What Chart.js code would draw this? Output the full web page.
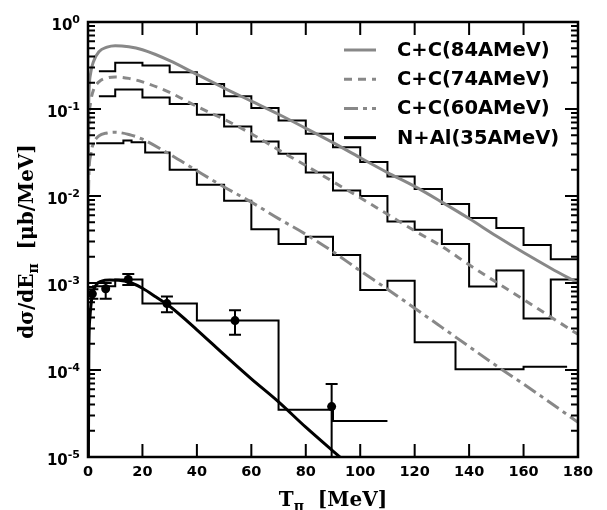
<!DOCTYPE html>
<html>
<head>
<meta charset="utf-8">
<script src="https://cdn.jsdelivr.net/npm/chart.js@4.4.0/dist/chart.umd.min.js"></script>
<style>
  html, body { margin: 0; padding: 0; background: #fff; }
  #wrap { width: 607px; height: 510px; }
</style>
</head>
<body>
<div id="wrap"><canvas id="pionChart" width="607" height="510"></canvas></div>
<script>
// ---- model curves (T in MeV, dsigma/dE in ub/MeV) ----
var curveT = [0.05, 0.3, 1, 2, 4, 7, 10, 15, 20, 30, 40, 50, 60, 70, 80, 90, 100, 110, 120, 130, 140, 150, 160, 170, 180];
var cc84 = [0.03, 0.13, 0.26, 0.35, 0.455, 0.515, 0.535, 0.52, 0.48, 0.36, 0.25, 0.174, 0.123, 0.087, 0.06, 0.041, 0.0275, 0.0186, 0.0129, 0.0085, 0.0055, 0.00347, 0.00224, 0.00148, 0.001];
var cc74 = [0.015, 0.06, 0.12, 0.165, 0.205, 0.228, 0.234, 0.225, 0.205, 0.155, 0.107, 0.076, 0.052, 0.0339, 0.0224, 0.0146, 0.00955, 0.00617, 0.00398, 0.00263, 0.00162, 0.00102, 0.000646, 0.000407, 0.000257];
var cc60 = [0.005, 0.016, 0.03, 0.04, 0.049, 0.053, 0.054, 0.051, 0.045, 0.0302, 0.0195, 0.0127, 0.0085, 0.0055, 0.00363, 0.00229, 0.00138, 0.00085, 0.000513, 0.000309, 0.000186, 0.000112, 0.000069, 0.0000417, 0.0000251];
var nalT = [0.1, 0.3, 0.7, 1.5, 3, 5, 8, 12, 16, 20, 25, 30, 40, 50, 60, 70, 80, 90, 100];
var nal35 = [3e-6, 1.5e-4, 4e-4, 7e-4, 9.5e-4, 1.05e-3, 1.08e-3, 1.07e-3, 1.0e-3, 8.7e-4, 6.9e-4, 5.4e-4, 2.9e-4, 1.5e-4, 7.9e-5, 4.3e-5, 2.2e-5, 1.17e-5, 6.3e-6];

// ---- histograms (bin edges + contents) ----
var edgesCC = [4, 10, 20, 30, 40, 50, 60, 70, 80, 90, 100, 110, 120, 130, 140, 150, 160, 170, 180];
var hist84 = [0.271, 0.339, 0.316, 0.264, 0.194, 0.140, 0.103, 0.074, 0.052, 0.0364, 0.0246, 0.0168, 0.012, 0.0081, 0.0056, 0.0043, 0.00274, 0.00188];
var hist74 = [0.14, 0.167, 0.136, 0.114, 0.086, 0.063, 0.0424, 0.0306, 0.0186, 0.0116, 0.0100, 0.0051, 0.0041, 0.0028, 0.00091, 0.00139, 0.00039, 0.0011];
var edges60 = [3, 13, 16, 21, 30, 40, 50, 60, 70, 80, 90, 100, 110, 120, 135, 160, 176];
var hist60 = [0.0405, 0.0435, 0.0415, 0.0317, 0.020, 0.01345, 0.0088, 0.00416, 0.00281, 0.00341, 0.0021, 0.00083, 0.00106, 0.000208, 0.000102, 0.000109];
var edgesNAl = [1.5, 10, 20, 40, 70, 90, 110];
var histNAl = [9.2e-4, 1.1e-3, 5.8e-4, 3.7e-4, 3.5e-5, 2.6e-5];

// ---- N+Al measured points ----
var expT = [1.6, 6.5, 14.8, 29, 54, 89.5];
var expY = [7.5e-4, 8.6e-4, 1.1e-3, 5.8e-4, 3.7e-4, 3.8e-5];
var expLo = [6.6e-4, 6.6e-4, 9.5e-4, 4.6e-4, 2.55e-4, 1e-6];
var expHi = [8.5e-4, 1.0e-3, 1.27e-3, 7.0e-4, 4.85e-4, 6.9e-5];

// ---- axes ----
var xTicks = [0, 20, 40, 60, 80, 100, 120, 140, 160, 180];
var yDecades = [1e-5, 1e-4, 1e-3, 1e-2, 1e-1, 1];

var GRAY = '#888888';

function toPoints(xs, ys) {
	return xs.map(function(x, i) { return { x: x, y: ys[i] }; });
}

function toSteps(edges, vals) {
	var pts = vals.map(function(v, i) { return { x: edges[i], y: v }; });
	pts.push({ x: edges[edges.length - 1], y: vals[vals.length - 1] });
	return pts;
}

function histSet(edges, vals) {
	return { data: toSteps(edges, vals), stepped: true, borderColor: '#000', borderWidth: 2, pointRadius: 0, fill: false };
}

function curveSet(label, xs, ys, color, width, dash, row) {
	return { label: label, data: toPoints(xs, ys), borderColor: color, borderWidth: width, borderDash: dash,
		pointRadius: 0, fill: false, cubicInterpolationMode: 'monotone', legendRow: row };
}

// dataset 0 is drawn on top
var datasets = [
	{ label: 'N+Al data', data: toPoints(expT, expY), showLine: false, pointRadius: 4.5,
		pointBackgroundColor: '#000', pointBorderColor: '#000', pointBorderWidth: 0 },
	curveSet('N+Al(35AMeV)', nalT, nal35, '#000', 3, [], 3),
	curveSet('C+C(84AMeV)', curveT, cc84, GRAY, 3, [], 0),
	curveSet('C+C(74AMeV)', curveT, cc74, GRAY, 3, [8, 6], 1),
	curveSet('C+C(60AMeV)', curveT, cc60, GRAY, 3, [14, 5, 4, 5], 2),
	histSet(edgesCC, hist84),
	histSet(edgesCC, hist74),
	histSet(edges60, hist60),
	histSet(edgesNAl, histNAl)
];

function drawRich(ctx, parts, cx, baseY) {
	var big = 'bold 20px "DejaVu Serif"', small = 'bold 14px "DejaVu Serif"';
	var total = 0;
	parts.forEach(function(p) {
		ctx.font = p.sub ? small : big;
		p.w = ctx.measureText(p.t).width;
		total += p.w;
	});
	var x = cx - total / 2;
	ctx.textAlign = 'left';
	ctx.textBaseline = 'alphabetic';
	parts.forEach(function(p) {
		ctx.font = p.sub ? small : big;
		ctx.fillText(p.t, x, baseY + (p.sub ? 5 : 0));
		x += p.w;
	});
}

var errorBars = {
	id: 'errorBars',
	afterDatasetsDraw: function(chart) {
		var ctx = chart.ctx, a = chart.chartArea, xs = chart.scales.x, ys = chart.scales.y;
		ctx.save();
		ctx.beginPath();
		ctx.rect(a.left, a.top, a.right - a.left, a.bottom - a.top);
		ctx.clip();
		ctx.strokeStyle = '#000';
		ctx.lineWidth = 2;
		expT.forEach(function(t, i) {
			var px = xs.getPixelForValue(t);
			var y1 = ys.getPixelForValue(expLo[i]);
			var y2 = ys.getPixelForValue(expHi[i]);
			ctx.beginPath();
			ctx.moveTo(px, y1); ctx.lineTo(px, y2);
			ctx.moveTo(px - 6, y1); ctx.lineTo(px + 6, y1);
			ctx.moveTo(px - 6, y2); ctx.lineTo(px + 6, y2);
			ctx.stroke();
		});
		ctx.restore();
	}
};

var frameAndLabels = {
	id: 'frameAndLabels',
	afterDraw: function(chart) {
		var ctx = chart.ctx, a = chart.chartArea, xs = chart.scales.x, ys = chart.scales.y;
		ctx.save();
		ctx.strokeStyle = '#000';
		ctx.lineWidth = 2;
		ctx.setLineDash([]);
		ctx.beginPath();
		xTicks.forEach(function(t) {
			var px = xs.getPixelForValue(t);
			ctx.moveTo(px, a.bottom); ctx.lineTo(px, a.bottom - 13);
			ctx.moveTo(px, a.top); ctx.lineTo(px, a.top + 13);
		});
		yDecades.forEach(function(d) {
			for (var m = 1; m < 10; m++) {
				var v = d * m;
				if (v > 1.0001) break;
				var py = ys.getPixelForValue(v);
				var len = (m === 1) ? 13 : 7;
				ctx.moveTo(a.left, py); ctx.lineTo(a.left + len, py);
				ctx.moveTo(a.right, py); ctx.lineTo(a.right - len, py);
			}
		});
		ctx.stroke();
		ctx.lineWidth = 2.5;
		ctx.strokeRect(a.left, a.top, a.right - a.left, a.bottom - a.top);

		// y tick labels: 10 with raised exponent
		ctx.fillStyle = '#000';
		ctx.textBaseline = 'alphabetic';
		ctx.textAlign = 'left';
		yDecades.forEach(function(d) {
			var py = ys.getPixelForValue(d);
			var ex = String(Math.round(Math.log10(d)));
			ctx.font = 'bold 15px "DejaVu Sans"';
			var wb = ctx.measureText('10').width;
			ctx.font = 'bold 11px "DejaVu Sans"';
			var we = ctx.measureText(ex).width;
			var x0 = a.left - 8 - we - wb;
			ctx.font = 'bold 15px "DejaVu Sans"';
			ctx.fillText('10', x0, py + 8);
			ctx.font = 'bold 11px "DejaVu Sans"';
			ctx.fillText(ex, x0 + wb, py + 1);
		});

		// legend
		var rows = chart.data.datasets.filter(function(ds) { return ds.legendRow !== undefined; });
		rows.sort(function(p, q) { return p.legendRow - q.legendRow; });
		rows.forEach(function(ds) {
			var y = a.top + 28 + ds.legendRow * 29.2;
			ctx.beginPath();
			ctx.strokeStyle = ds.borderColor;
			ctx.lineWidth = ds.borderWidth;
			ctx.setLineDash(ds.borderDash || []);
			ctx.moveTo(a.right - 234, y);
			ctx.lineTo(a.right - 202, y);
			ctx.stroke();
			ctx.setLineDash([]);
			ctx.fillStyle = '#000';
			ctx.font = 'bold 19.5px "DejaVu Sans"';
			ctx.textAlign = 'left';
			ctx.textBaseline = 'middle';
			ctx.fillText(ds.label, a.right - 181, y + 1);
		});

		// axis titles
		ctx.fillStyle = '#000';
		drawRich(ctx, [{ t: 'T' }, { t: '\u03c0', sub: true }, { t: '  [MeV]' }], (a.left + a.right) / 2, 506);
		ctx.translate(33, (a.top + a.bottom) / 2 + 2);
		ctx.rotate(-Math.PI / 2);
		drawRich(ctx, [{ t: 'd\u03c3/dE' }, { t: '\u03c0', sub: true }, { t: '  [\u03bcb/MeV]' }], 0, 0);
		ctx.restore();
	}
};

Chart.defaults.font.family = '"DejaVu Sans"';

var ctx = document.getElementById('pionChart').getContext('2d');
var pionChart = new Chart(ctx, {
	type: 'line',
	data: { datasets: datasets },
	options: {
		responsive: false,
		animation: false,
		devicePixelRatio: 1,
		layout: { padding: { top: 22, right: 29, left: 0, bottom: 0 } },
		plugins: { legend: { display: false }, tooltip: { enabled: false } },
		scales: {
			x: {
				type: 'linear', min: 0, max: 180,
				grid: { display: false, drawTicks: false },
				border: { display: false },
				ticks: { stepSize: 20, autoSkip: false, maxRotation: 0, padding: 7, color: '#000',
					font: { size: 14.5, weight: 'bold' } },
				afterBuildTicks: function(s) { s.ticks = xTicks.map(function(v) { return { value: v }; }); },
				afterFit: function(s) { s.height = 53; }
			},
			y: {
				type: 'logarithmic', min: 1e-5, max: 1,
				grid: { display: false, drawTicks: false },
				border: { display: false },
				ticks: { display: false },
				afterBuildTicks: function(s) { s.ticks = yDecades.map(function(v) { return { value: v, major: true }; }); },
				afterFit: function(s) { s.width = 88; }
			}
		}
	},
	plugins: [errorBars, frameAndLabels]
});
</script>
</body>
</html>
